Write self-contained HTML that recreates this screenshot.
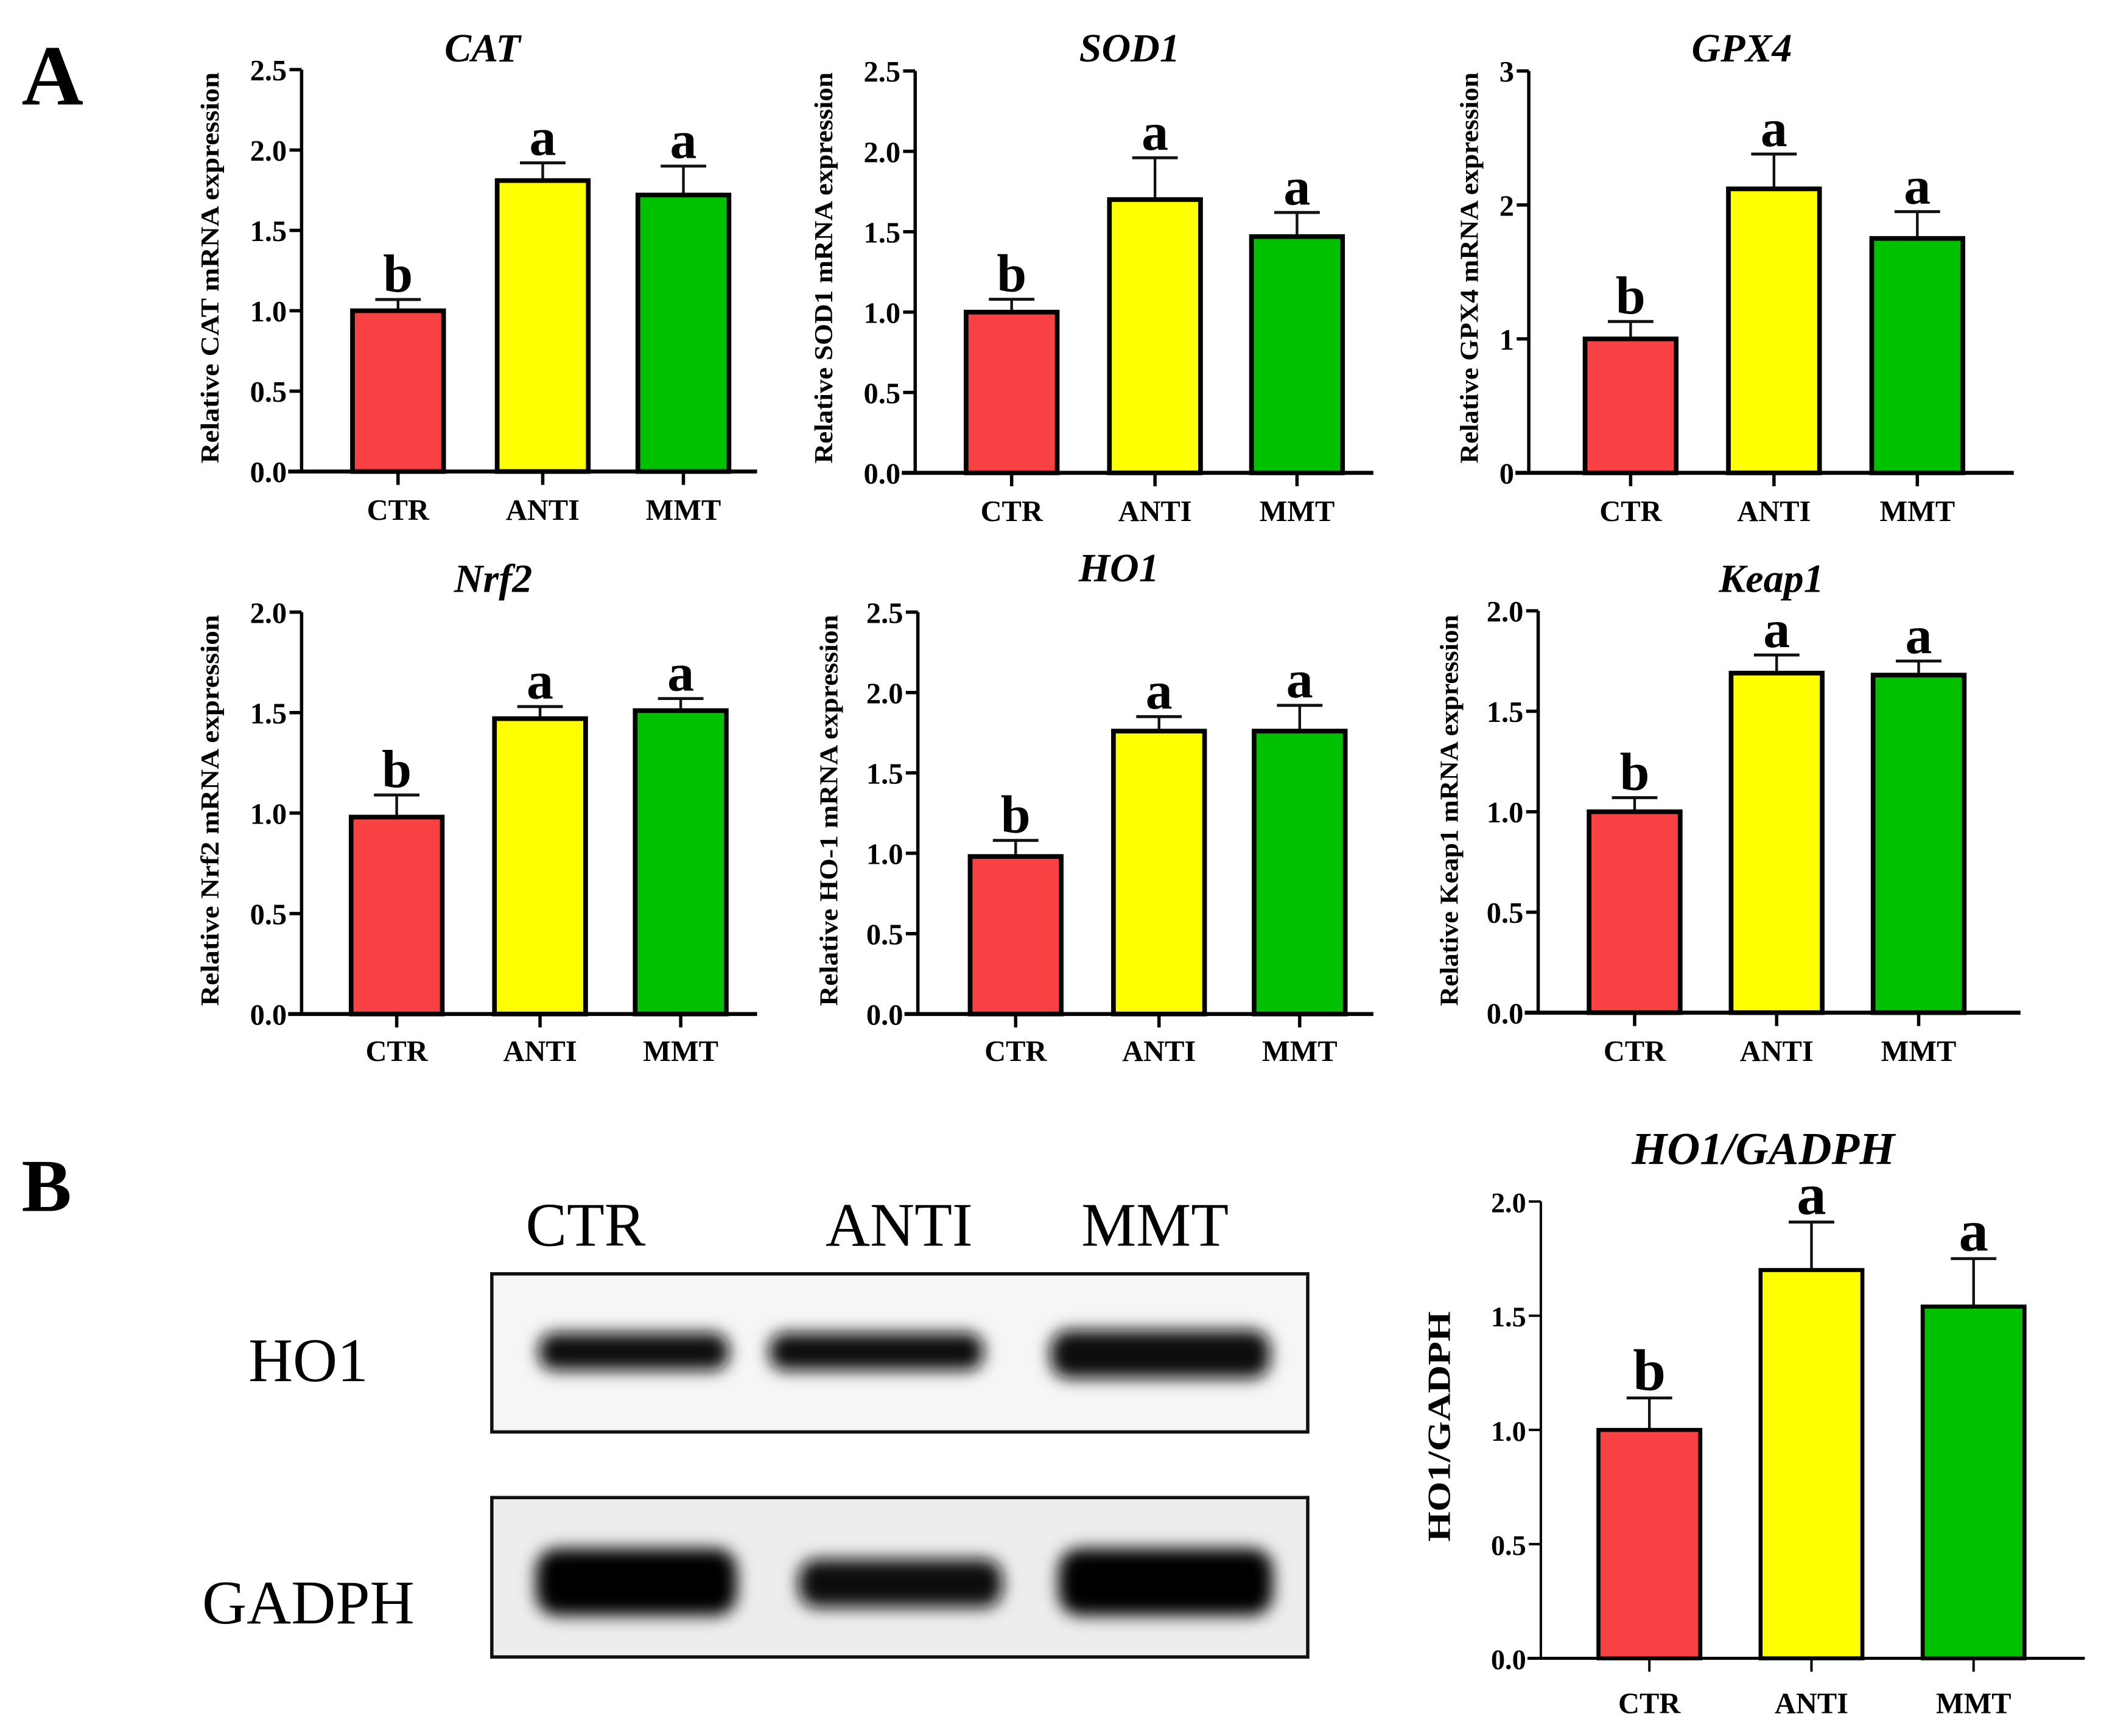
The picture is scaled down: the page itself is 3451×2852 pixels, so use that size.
<!DOCTYPE html>
<html><head><meta charset="utf-8"><style>
html,body{margin:0;padding:0;background:#fff;}
svg{display:block;}
text{font-family:"Liberation Serif","DejaVu Serif",serif;}
</style></head><body>
<svg id="fig" xmlns="http://www.w3.org/2000/svg" width="3451" height="2852" viewBox="0 0 1568 1296">
<rect width="1568" height="1296" fill="#fff"/>
<text x="16" y="78" font-size="64" font-weight="bold">A</text>
<text x="16" y="904" font-size="56" font-weight="bold">B</text>
<g id="charts"></g>
<g id="blot">
  <defs>
    <filter id="blur4" x="-20%" y="-100%" width="140%" height="300%"><feGaussianBlur stdDeviation="6"/></filter>
  </defs>
  <text x="437" y="930" font-size="46" text-anchor="middle">CTR</text>
  <text x="671" y="930" font-size="46" text-anchor="middle">ANTI</text>
  <text x="862" y="930" font-size="46" text-anchor="middle">MMT</text>
  <text x="230" y="1031" font-size="46" text-anchor="middle">HO1</text>
  <text x="230" y="1212" font-size="46" text-anchor="middle">GADPH</text>
  <rect x="367" y="951" width="609" height="118" fill="#f6f6f6" stroke="#111" stroke-width="2.5"/>
  <rect x="367" y="1118" width="609" height="119" fill="#ededed" stroke="#111" stroke-width="2.5"/>
  <g filter="url(#blur4)">
    <rect x="402" y="995" width="142" height="28" rx="12" fill="#111"/>
    <rect x="574" y="995" width="160" height="28" rx="12" fill="#111"/>
    <rect x="784" y="993" width="164" height="36" rx="14" fill="#0a0a0a"/>
    <rect x="400" y="1156" width="150" height="50" rx="16" fill="#050505"/>
    <rect x="596" y="1164" width="152" height="36" rx="14" fill="#0a0a0a"/>
    <rect x="790" y="1156" width="160" height="50" rx="16" fill="#050505"/>
  </g>
</g>
</svg>
<script>
const categories = ["CTR","ANTI","MMT"];
const barColors = ["#f94144","#ffff00","#00c000"];
const catMeans = [1.0, 1.81, 1.72];
const catErrTop = [1.07, 1.92, 1.90];
const catLetters = ["b","a","a"];
const sod1Means = [1.0, 1.70, 1.47];
const sod1ErrTop = [1.08, 1.96, 1.62];
const sod1Letters = ["b","a","a"];
const gpx4Means = [1.0, 2.12, 1.75];
const gpx4ErrTop = [1.13, 2.38, 1.95];
const gpx4Letters = ["b","a","a"];
const nrf2Means = [0.98, 1.47, 1.51];
const nrf2ErrTop = [1.09, 1.53, 1.57];
const nrf2Letters = ["b","a","a"];
const ho1Means = [0.98, 1.76, 1.76];
const ho1ErrTop = [1.08, 1.85, 1.92];
const ho1Letters = ["b","a","a"];
const keap1Means = [1.0, 1.69, 1.68];
const keap1ErrTop = [1.07, 1.78, 1.75];
const keap1Letters = ["b","a","a"];
const wbMeans = [1.0, 1.70, 1.54];
const wbErrTop = [1.14, 1.91, 1.75];
const wbLetters = ["b","a","a"];
const ticks25 = ["0.0","0.5","1.0","1.5","2.0","2.5"];
const ticks3 = ["0","1","2","3"];
const ticks20 = ["0.0","0.5","1.0","1.5","2.0"];

const NS = "http://www.w3.org/2000/svg";
const root = document.getElementById("charts");
function mk(tag, attrs, parent, txt){
  const e = document.createElementNS(NS, tag);
  for (const k in attrs) e.setAttribute(k, attrs[k]);
  if (txt !== undefined) e.textContent = txt;
  parent.appendChild(e);
  return e;
}
function chart(o){
  const g = mk("g", {}, root);
  
  
  const ymax = parseFloat(o.ticks[o.ticks.length-1]);
  const y = v => o.y0 - (v/ymax)*(o.y0 - o.y1);
  const sw = o.sw;
  const t = mk("text", {x:o.titleX, y:o.titleY, "font-size":o.titleSize, "font-weight":"bold", "font-style":"italic", "text-anchor":"middle"}, g, o.title);
  
  
  const yl = mk("text", {x:0, y:0, "font-size":o.ylSize, "font-weight":"bold", "text-anchor":"middle", textLength:o.ylLen, lengthAdjust:"spacingAndGlyphs", transform:`translate(${o.ylX},${o.ylY}) rotate(-90)`}, g, o.ylabel);
  
  
  o.means.forEach((m,i)=>{
    const cx = o.centers[i];
    const top = y(m);
    const eb = y(o.err[i]);
    const ln = mk("line", {x1:cx, y1:top, x2:cx, y2:eb, stroke:"#111", "stroke-width":2}, g);
    
    
    const cap = mk("line", {x1:cx-17, y1:eb, x2:cx+17, y2:eb, stroke:"#111", "stroke-width":2.2}, g);
    
    
    const r = mk("rect", {x:cx-o.bw/2, y:top, width:o.bw, height:o.y0-top, fill:barColors[i], stroke:"#000", "stroke-width":sw}, g);
    
    
    const lt = mk("text", {x:cx, y:eb-6, "font-size":o.letterSize, "font-weight":"bold", "text-anchor":"middle"}, g, o.letters[i]);
    
    
    const tk = mk("line", {x1:cx, y1:o.y0, x2:cx, y2:o.y0+10, stroke:"#000", "stroke-width":o.axisW}, g);
    
    
    const xl = mk("text", {x:cx, y:o.xlY, "font-size":o.xlSize, "font-weight":"bold", "text-anchor":"middle"}, g, categories[i]);
    
    
  });
  const ya = mk("line", {x1:o.ax, y1:o.y1, x2:o.ax, y2:o.y0, stroke:"#000", "stroke-width":o.axisW}, g);
  
  
  const xa = mk("line", {x1:o.ax-10, y1:o.y0, x2:o.xend, y2:o.y0, stroke:"#000", "stroke-width":o.axisW+0.5}, g);
  
  
  o.ticks.forEach(tl=>{
    const yy = y(parseFloat(tl));
    const tk = mk("line", {x1:o.ax-9, y1:yy, x2:o.ax, y2:yy, stroke:"#000", "stroke-width":o.axisW}, g);
    
    
    const tt = mk("text", {x:o.ax-11, y:yy+8, "font-size":o.tickSize, "font-weight":"bold", "text-anchor":"end"}, g, tl);
    
    
  });
}
const common = {bw:68, sw:3.5, axisW:2.5, letterSize:40, tickSize:22, xlSize:22, ylSize:19, ylLen:292, titleSize:30};
chart(Object.assign({}, common, {name:"cat-chart", title:"CAT", ylabel:"Relative CAT mRNA expression", means:catMeans, err:catErrTop, letters:catLetters, ticks:ticks25, ax:225, y1:52, y0:352, xend:565, centers:[297,405,510], titleX:360, titleY:46, ylX:163, ylY:200, xlY:388}));
chart(Object.assign({}, common, {name:"sod1-chart", title:"SOD1", ylabel:"Relative SOD1 mRNA expression", means:sod1Means, err:sod1ErrTop, letters:sod1Letters, ticks:ticks25, ax:683, y1:53, y0:353, xend:1025, centers:[755,862,968], titleX:843, titleY:46, ylX:621, ylY:200, xlY:389}));
chart(Object.assign({}, common, {name:"gpx4-chart", title:"GPX4", ylabel:"Relative GPX4 mRNA expression", means:gpx4Means, err:gpx4ErrTop, letters:gpx4Letters, ticks:ticks3, ax:1141, y1:53, y0:353, xend:1503, centers:[1217,1324,1431], titleX:1300, titleY:46, ylX:1103, ylY:200, xlY:389}));
chart(Object.assign({}, common, {name:"nrf2-chart", title:"Nrf2", ylabel:"Relative Nrf2 mRNA expression", means:nrf2Means, err:nrf2ErrTop, letters:nrf2Letters, ticks:ticks20, ax:225, y1:457, y0:757, xend:565, centers:[296,403,508], titleX:368, titleY:442, ylX:163, ylY:605, xlY:792}));
chart(Object.assign({}, common, {name:"ho1-chart", title:"HO1", ylabel:"Relative HO-1 mRNA expression", means:ho1Means, err:ho1ErrTop, letters:ho1Letters, ticks:ticks25, ax:685, y1:457, y0:757, xend:1025, centers:[758,865,970], titleX:835, titleY:434, ylX:625, ylY:605, xlY:792}));
chart(Object.assign({}, common, {name:"keap1-chart", title:"Keap1", ylabel:"Relative Keap1 mRNA expression", means:keap1Means, err:keap1ErrTop, letters:keap1Letters, ticks:ticks20, ax:1148, y1:456, y0:756, xend:1508, centers:[1220,1326,1432], titleX:1322, titleY:442, ylX:1088, ylY:605, xlY:792}));
chart(Object.assign({}, common, {name:"ho1-gadph-chart", title:"HO1/GADPH", ylabel:"HO1/GADPH", means:wbMeans, err:wbErrTop, letters:wbLetters, ticks:ticks20, ax:1150, y1:897, y0:1238, xend:1556, centers:[1231,1352,1473], bw:76, sw:3, axisW:1.8, letterSize:44, tickSize:21, xlSize:22, ylSize:24, ylLen:172, titleSize:34, titleX:1316, titleY:869, ylX:1082, ylY:1065, xlY:1279}));
</script>
</body></html>
